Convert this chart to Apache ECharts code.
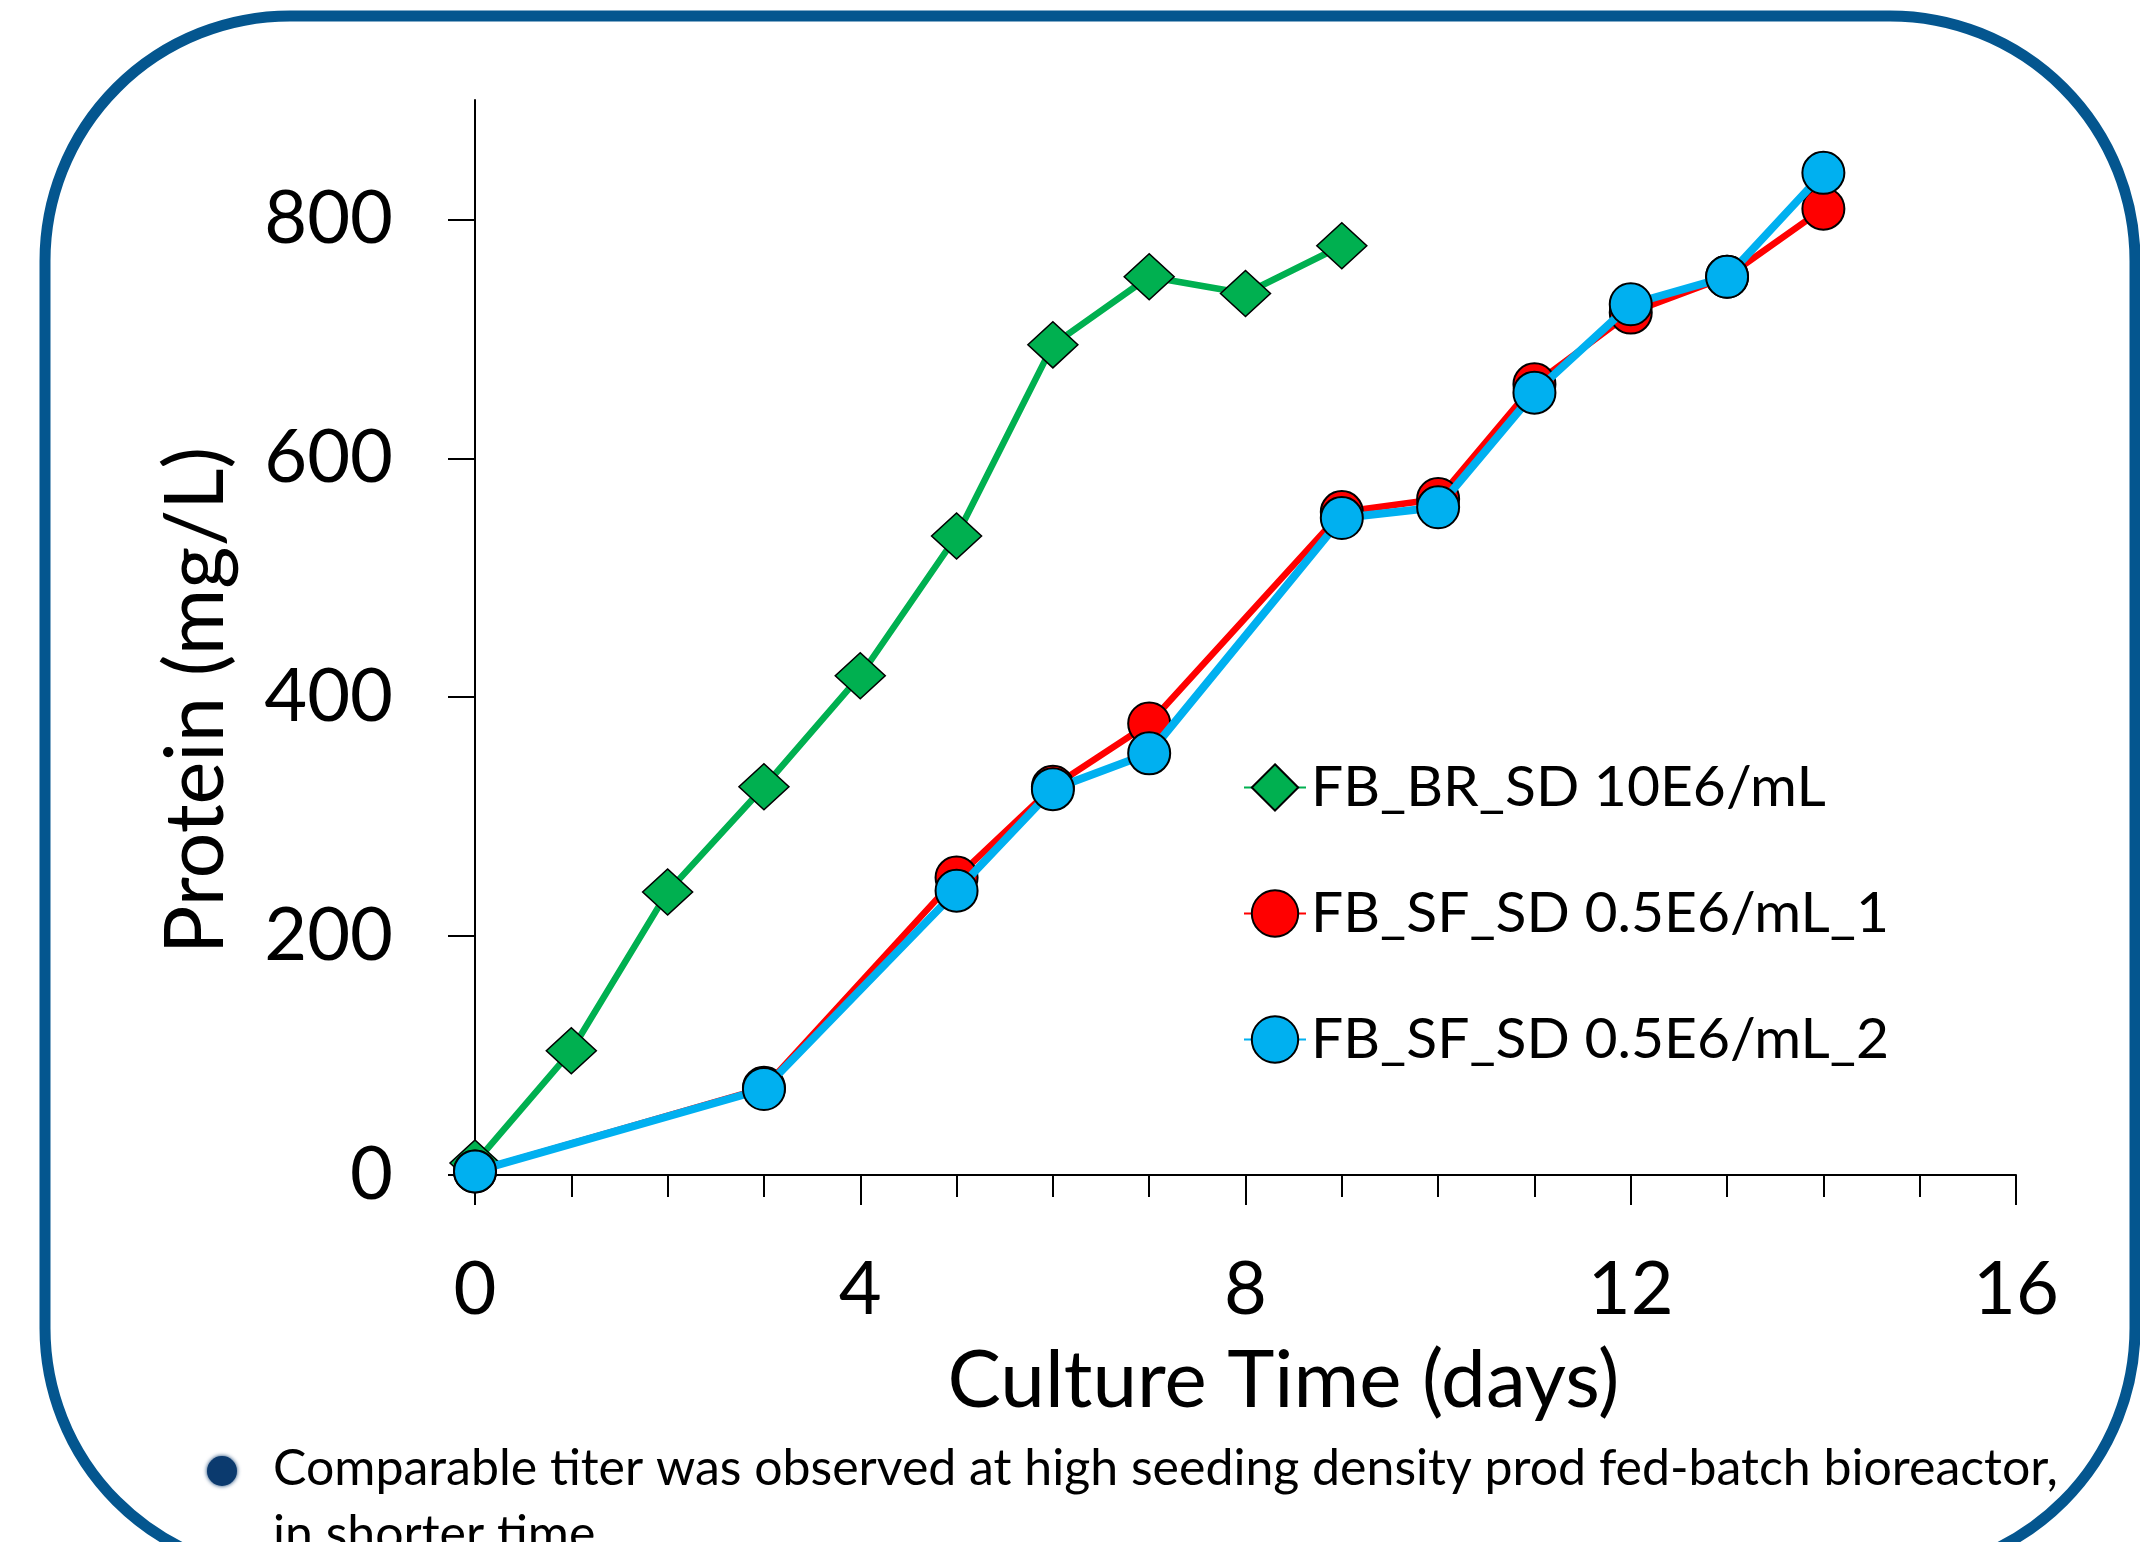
<!DOCTYPE html>
<html>
<head>
<meta charset="utf-8">
<script src="https://cdn.jsdelivr.net/npm/echarts@6/dist/echarts.min.js"></script>
<style>
  html, body { margin: 0; padding: 0; background: #fff; }
  #chart { width: 2140px; height: 1542px; }
</style>
</head>
<body>
<div id="chart"></div>
<script>
  // culture day -> protein titer (mg/L)
  const brDays = [0, 1, 2, 3, 4, 5, 6, 7, 8, 9];
  const brProtein = [10, 104, 237, 325, 418, 535, 695, 752, 738, 778];

  const sfDays = [0, 3, 5, 6, 7, 9, 10, 11, 12, 13, 14];
  const sf1Protein = [3, 73, 249, 325, 378, 555, 566, 662, 722, 752, 809];
  const sf2Protein = [3, 72, 238, 323, 353, 550, 559, 655, 729, 752, 839];

  const seriesNames = ['FB_BR_SD 10E6/mL', 'FB_SF_SD 0.5E6/mL_1', 'FB_SF_SD 0.5E6/mL_2'];
  const yTicks = [0, 200, 400, 600, 800];

  const pairs = (xs, ys) => xs.map((x, i) => [x, ys[i]]);

  let myChart = echarts.init(document.getElementById('chart'));
  let option = {
    animation: false,
    textStyle: { fontFamily: 'Lato', color: '#000' },
    grid: { left: 475, right: 124, top: 100, bottom: 367 },
    legend: {
      orient: 'vertical',
      left: 1238,
      top: 754,
      itemWidth: 62,
      itemHeight: 58,
      itemGap: 69,
      textStyle: { fontSize: 57, color: '#000' },
      data: seriesNames
    },
    xAxis: {
      type: 'value',
      min: 0, max: 16, interval: 4,
      name: 'Culture Time (days)',
      nameLocation: 'middle',
      nameGap: 166,
      nameTextStyle: { fontSize: 80, color: '#000', padding: [0, 0, 0, 76] },
      axisLine: { lineStyle: { color: '#000', width: 2 } },
      axisTick: { length: 30, lineStyle: { color: '#000', width: 2 } },
      minorTick: { show: true, splitNumber: 4, length: 22, lineStyle: { color: '#000', width: 2 } },
      axisLabel: { fontSize: 74, color: '#000', margin: 78 },
      splitLine: { show: false }
    },
    yAxis: {
      type: 'value',
      min: 0, max: 900,
      name: 'Protein (mg/L)',
      nameLocation: 'middle',
      nameRotate: 90,
      nameGap: 238,
      nameTextStyle: { fontSize: 81, color: '#000', padding: [0, 126, 0, 0] },
      axisLine: { show: true, lineStyle: { color: '#000', width: 2 } },
      axisTick: { show: true, length: 27, customValues: yTicks, lineStyle: { color: '#000', width: 2 } },
      axisLabel: { fontSize: 74, color: '#000', margin: 82, customValues: yTicks },
      splitLine: { show: false }
    },
    series: [
      {
        name: seriesNames[0],
        type: 'line',
        data: pairs(brDays, brProtein),
        symbol: 'diamond',
        symbolSize: [50, 46],
        lineStyle: { color: '#00b050', width: 6.5 },
        itemStyle: { color: '#00b050', borderColor: '#000', borderWidth: 1.5 },
        z: 2
      },
      {
        name: seriesNames[1],
        type: 'line',
        data: pairs(sfDays, sf1Protein),
        symbol: 'circle',
        symbolSize: 42,
        lineStyle: { color: '#ff0000', width: 6.5 },
        itemStyle: { color: '#ff0000', borderColor: '#000', borderWidth: 2 },
        z: 3
      },
      {
        name: seriesNames[2],
        type: 'line',
        data: pairs(sfDays, sf2Protein),
        symbol: 'circle',
        symbolSize: 42,
        lineStyle: { color: '#00b0f0', width: 8 },
        itemStyle: { color: '#00b0f0', borderColor: '#000', borderWidth: 2 },
        z: 4
      }
    ],
    graphic: [
      {
        type: 'rect',
        shape: { x: 45, y: 16, width: 2090, height: 1557, r: 245 },
        style: { fill: 'none', stroke: '#04568f', lineWidth: 11 },
        silent: true
      },
      {
        type: 'circle',
        shape: { cx: 222, cy: 1471, r: 15 },
        style: { fill: '#0b3a6e', shadowBlur: 4, shadowColor: '#0b3a6e' },
        silent: true
      },
      {
        type: 'text',
        left: 273, top: 1444,
        style: { text: 'Comparable titer was observed at high seeding density prod fed-batch bioreactor,', font: '50px Lato', fill: '#000' },
        silent: true
      },
      {
        type: 'text',
        left: 273, top: 1510,
        style: { text: 'in shorter time', font: '50px Lato', fill: '#000' },
        silent: true
      }
    ]
  };
  myChart.setOption(option);
</script>
</body>
</html>
